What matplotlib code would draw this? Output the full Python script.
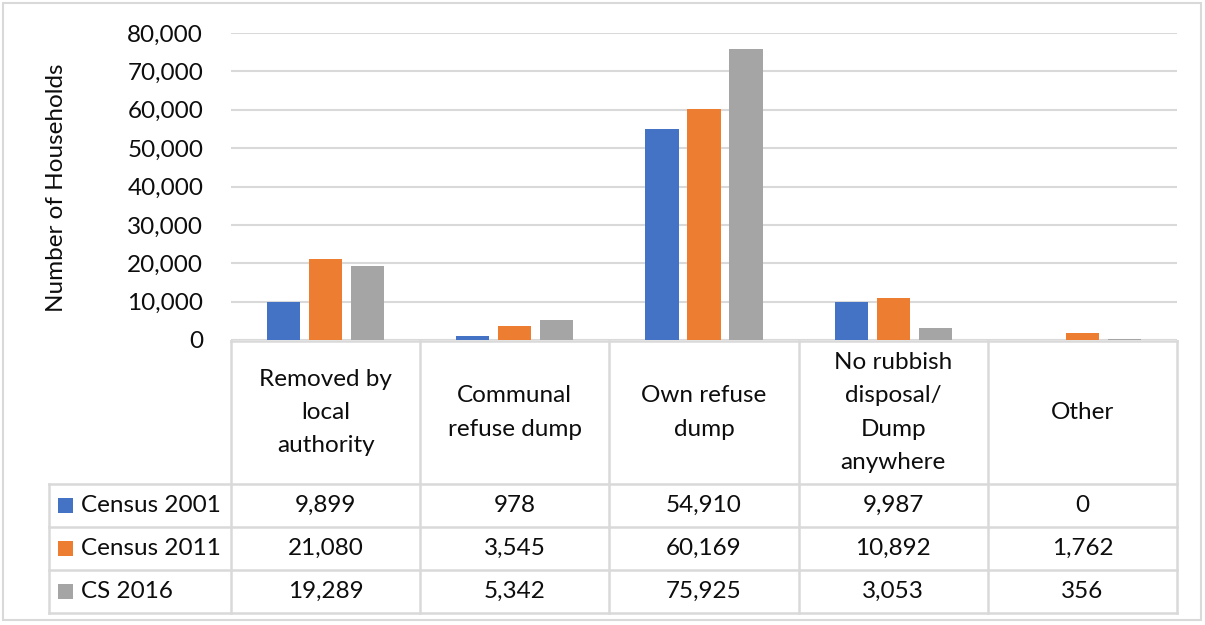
import matplotlib
matplotlib.use("Agg")
import matplotlib.pyplot as plt
from matplotlib.patches import Rectangle
from matplotlib.transforms import Affine2D, blended_transform_factory
import numpy as np

# Refuse removal categories and household counts per census
categories = ["Removed by\nlocal\nauthority", "Communal\nrefuse dump", "Own refuse\ndump",
              "No rubbish\ndisposal/\nDump\nanywhere", "Other"]
series_names = ["Census 2001", "Census 2011", "CS 2016"]
census_2001 = [9899, 978, 54910, 9987, 0]
census_2011 = [21080, 3545, 60169, 10892, 1762]
cs_2016 = [19289, 5342, 75925, 3053, 356]
colors = ["#4472C4", "#ED7D31", "#A5A5A5"]
y_ticks = list(range(0, 80001, 10000))

W, H = 1205, 625
plt.rcParams['font.family'] = ['Lato', 'DejaVu Sans']
FS = 17.5
TXT = "#0d0d0d"
GRID = "#D9D9D9"

fig = plt.figure(figsize=(W / 100, H / 100), dpi=100)
fig.patch.set_facecolor("white")

# plot region in pixel terms (top-origin)
x0, x1 = 231, 1177
y_top, y_base = 33, 340
ax = fig.add_axes([x0 / W, (H - y_base) / H, (x1 - x0) / W, (y_base - y_top) / H])

series = [census_2001, census_2011, cs_2016]
x = np.arange(len(categories))
bw = 0.175
step = 0.222
for i, (vals, c) in enumerate(zip(series, colors)):
    ax.bar(x + (i - 1) * step, vals, width=bw, color=c, zorder=3)

ax.set_xlim(-0.5, len(categories) - 0.5)
ax.set_ylim(0, 80000)
ax.set_yticks(y_ticks)
ax.set_yticklabels([f"{v:,}" for v in y_ticks], fontsize=FS, color=TXT)
ax.tick_params(axis="y", length=0, pad=20)
ax.set_xticks([])
for s in ax.spines.values():
    s.set_visible(False)
ax.grid(axis="y", color=GRID, linewidth=1.5, zorder=0)
ax.set_axisbelow(True)

fig.text(57 / W, 1 - 188 / H, "Number of Households", rotation=90,
         ha="center", va="center", fontsize=FS, color=TXT)

# transform: x in data units, y in pixels from top of figure
ypix = Affine2D().scale(1, -1).translate(0, H)
tr = blended_transform_factory(ax.transData, ypix)

line_kw = dict(color=GRID, linewidth=1.8, clip_on=False)

# data table grid
hdr_top, hdr_bot = 341, 484
row_lines = [484, 527, 570, 613]
leg_left = 49
fig.add_artist(plt.Line2D([x0, x1], [H - hdr_top, H - hdr_top], transform=None, **line_kw))
for yl in row_lines:
    fig.add_artist(plt.Line2D([leg_left, x1], [H - yl, H - yl], transform=None, **line_kw))
for k in range(len(categories) + 1):
    ax.plot([k - 0.5, k - 0.5], [hdr_top, row_lines[-1]], transform=tr, **line_kw)
fig.add_artist(plt.Line2D([leg_left, leg_left], [H - row_lines[0], H - row_lines[-1]],
                          transform=None, **line_kw))

# header labels
for k, name in enumerate(categories):
    ax.text(k, (hdr_top + hdr_bot) / 2, name, transform=tr, ha="center", va="center",
            fontsize=FS, color=TXT, linespacing=1.72, clip_on=False)

# value rows with legend keys
for r, (sname, vals, c) in enumerate(zip(series_names, series, colors)):
    yc = (row_lines[r] + row_lines[r + 1]) / 2
    fig.add_artist(Rectangle((58, H - yc - 7.5), 15, 15, transform=None,
                             facecolor=c, edgecolor="none"))
    fig.text(81 / W, 1 - yc / H, sname, ha="left", va="center", fontsize=FS, color=TXT)
    for k, v in enumerate(vals):
        ax.text(k, yc, f"{v:,}", transform=tr, ha="center", va="center",
                fontsize=FS, color=TXT, clip_on=False)

# chart border
fig.add_artist(Rectangle((3, 5), W - 7, H - 8, transform=None, facecolor="none",
                         edgecolor=GRID, linewidth=1.5))

fig.savefig("out.png", dpi=100, facecolor="white")
